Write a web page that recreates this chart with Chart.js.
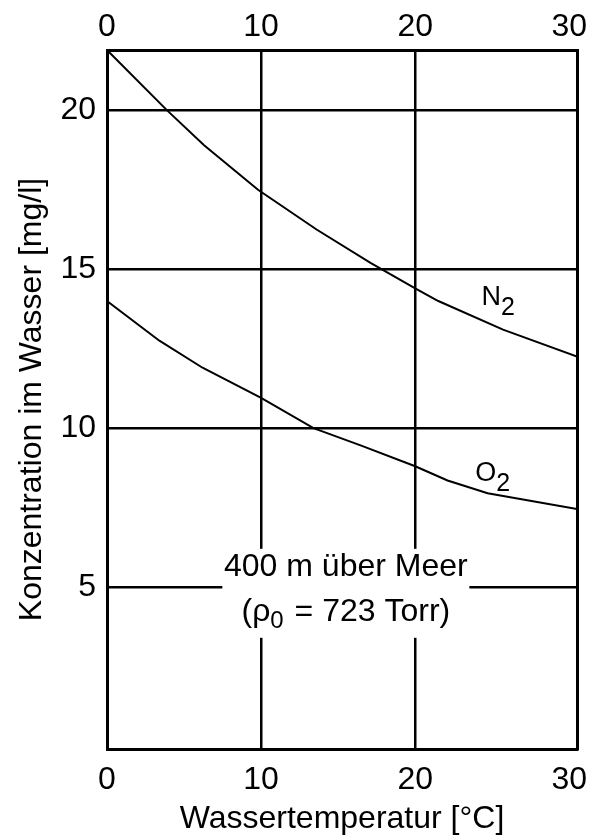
<!DOCTYPE html>
<html>
<head>
<meta charset="utf-8">
<script src="https://cdn.jsdelivr.net/npm/chart.js@4.4.1/dist/chart.umd.min.js"></script>
<style>
  html, body { margin: 0; padding: 0; background: #fff; }
  #wrap { width: 593px; height: 836px; position: relative; }
</style>
</head>
<body>
<div id="wrap"><canvas id="chart"></canvas></div>
<script>
// Temperature axis ticks (°C) and concentration axis ticks (mg/l)
const tempTicks = [0, 10, 20, 30];
const concTicks = [5, 10, 15, 20];

// Dissolved nitrogen, 400 m above sea level
const n2Temp = [0, 3.9, 6.3, 9.8, 13.6, 17.1, 20.0, 21.5, 25.7, 30.5];
const n2Conc = [21.9, 20.0, 18.9, 17.5, 16.25, 15.2, 14.4, 14.0, 13.1, 12.25];

// Dissolved oxygen, 400 m above sea level
const o2Temp = [0, 3.4, 6.2, 10.0, 13.4, 16.5, 20.0, 22.1, 24.7, 30.5];
const o2Conc = [14.0, 12.75, 11.9, 10.95, 10.0, 9.45, 8.8, 8.35, 7.95, 7.45];

const FONT = "'Liberation Sans', Arial, Helvetica, sans-serif";
const SIZE = 32;

const toPoints = (xs, ys) => xs.map((x, i) => ({ x, y: ys[i] }));

// Curve labels and the site note, placed in data units
const annotations = {
  curves: [
    { x: 24.3, y: 13.87, main: 'N', sub: '2' },
    { x: 23.9, y: 8.33, main: 'O', sub: '2' }
  ],
  note: { x: 15.5, y: 4.8, width: 247, height: 89 }
};

function drawRuns(ctx, runs, x, y) {
  let cx = x;
  for (const r of runs) {
    ctx.font = r.size + 'px ' + FONT;
    ctx.fillText(r.t, cx, y + (r.dy || 0));
    cx += ctx.measureText(r.t).width + (r.gap || 0);
  }
}
function runsWidth(ctx, runs) {
  let w = 0;
  for (const r of runs) {
    ctx.font = r.size + 'px ' + FONT;
    w += ctx.measureText(r.t).width + (r.gap || 0);
  }
  return w;
}

const labelPlugin = {
  id: 'labelPlugin',
  afterDatasetsDraw(chart) {
    const { ctx, scales: { x, y } } = chart;
    ctx.save();
    ctx.fillStyle = '#000';
    ctx.textAlign = 'left';
    ctx.textBaseline = 'alphabetic';

    for (const c of annotations.curves) {
      const px = x.getPixelForValue(c.x);
      const py = y.getPixelForValue(c.y);
      drawRuns(ctx, [
        { t: c.main, size: 27 },
        { t: c.sub, size: 25, dy: 10 }
      ], px, py);
    }

    // Site note on a white panel
    const n = annotations.note;
    const cx = x.getPixelForValue(n.x);
    const cy = y.getPixelForValue(n.y);
    ctx.fillStyle = '#fff';
    ctx.fillRect(cx - n.width / 2, cy - n.height / 2, n.width, n.height);
    ctx.fillStyle = '#000';
    ctx.font = SIZE + 'px ' + FONT;
    ctx.textAlign = 'center';
    ctx.fillText('400 m über Meer', cx, cy - 17);
    ctx.textAlign = 'left';
    const line2 = [
      { t: '(ρ', size: SIZE },
      { t: '0', size: 24, dy: 7, gap: 2 },
      { t: ' = 723 Torr)', size: SIZE }
    ];
    drawRuns(ctx, line2, cx - runsWidth(ctx, line2) / 2, cy + 28);
    ctx.restore();
  }
};

const tickFont = { family: FONT, size: SIZE, lineHeight: 1 };
const gridColor = (c) => (c.tick && c.tick.value === 30 ? 'rgba(0,0,0,0)' : '#000');
const noPad = (s) => { s.paddingLeft = 0; s.paddingRight = 0; s.paddingTop = 0; s.paddingBottom = 0; };

new Chart(document.getElementById('chart'), {
  type: 'line',
  data: {
    datasets: [
      { label: 'N2', data: toPoints(n2Temp, n2Conc), borderColor: '#000', borderWidth: 2,
        pointRadius: 0, fill: false, tension: 0, xAxisID: 'x', yAxisID: 'y' },
      { label: 'O2', data: toPoints(o2Temp, o2Conc), borderColor: '#000', borderWidth: 2,
        pointRadius: 0, fill: false, tension: 0, xAxisID: 'x', yAxisID: 'y' }
    ]
  },
  options: {
    responsive: true,
    maintainAspectRatio: false,
    animation: false,
    devicePixelRatio: 1,
    layout: { padding: { left: 0, right: 16, top: 0, bottom: 0 } },
    plugins: { legend: { display: false }, tooltip: { enabled: false } },
    scales: {
      x: {
        type: 'linear', position: 'bottom', min: 0, max: 30.5,
        afterBuildTicks: (s) => { s.ticks = tempTicks.map(v => ({ value: v })); },
        afterFit: (s) => { s.height = 87; noPad(s); },
        ticks: { color: '#000', font: tickFont, padding: 15, maxRotation: 0, autoSkip: false },
        grid: { color: gridColor, lineWidth: 2.5, drawTicks: false },
        border: { display: true, color: '#000', width: 3 },
        title: { display: true, text: 'Wassertemperatur [°C]', color: '#000',
                 font: { family: FONT, size: SIZE, lineHeight: 1 }, padding: { top: 0, bottom: 1 } }
      },
      xTop: {
        type: 'linear', position: 'top', min: 0, max: 30.5,
        afterBuildTicks: (s) => { s.ticks = tempTicks.map(v => ({ value: v })); },
        afterFit: (s) => { s.height = 50; noPad(s); },
        ticks: { color: '#000', font: tickFont, padding: 7, maxRotation: 0, autoSkip: false },
        grid: { display: false, drawTicks: false },
        border: { display: true, color: '#000', width: 3 }
      },
      y: {
        type: 'linear', position: 'left', min: -0.1, max: 21.9,
        afterBuildTicks: (s) => { s.ticks = concTicks.map(v => ({ value: v })); },
        afterFit: (s) => { s.width = 107; noPad(s); },
        ticks: { color: '#000', font: tickFont, padding: 11 },
        grid: { color: '#000', lineWidth: 2.5, drawTicks: false },
        border: { display: true, color: '#000', width: 3 },
        title: { display: true, text: 'Konzentration im Wasser [mg/l]', color: '#000',
                 font: { family: FONT, size: SIZE, lineHeight: 1 }, padding: { top: 16, bottom: 0 } }
      },
      yRight: {
        type: 'linear', position: 'right', min: -0.1, max: 21.9,
        afterFit: (s) => { s.width = 0; noPad(s); },
        ticks: { display: false },
        grid: { display: false, drawTicks: false },
        border: { display: true, color: '#000', width: 3 }
      }
    }
  },
  plugins: [labelPlugin]
});
</script>
</body>
</html>
